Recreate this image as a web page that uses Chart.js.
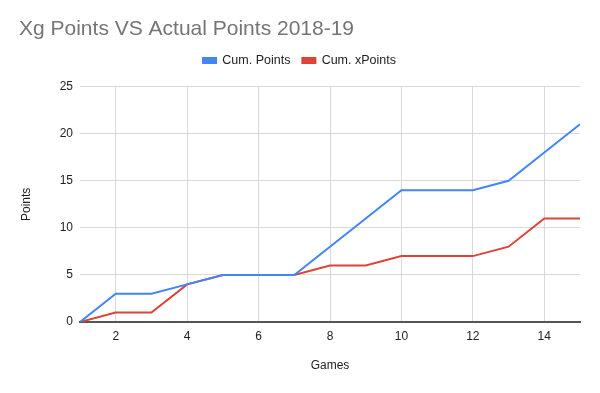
<!DOCTYPE html>
<html>
<head>
<meta charset="utf-8">
<script src="https://cdn.jsdelivr.net/npm/chart.js@4.4.1/dist/chart.umd.min.js"></script>
<style>
html,body{margin:0;padding:0;background:#fff;}
#wrap{width:600px;height:393px;position:relative;}
</style>
</head>
<body>
<div id="wrap"><canvas id="c" width="600" height="393"></canvas></div>
<script>
const titleText = "Xg Points VS Actual Points 2018-19";
const games = [1,2,3,4,5,6,7,8,9,10,11,12,13,14,15];
const cumPoints = [0,3,3,4,5,5,5,8,11,14,14,14,15,18,21];
const cumXPoints = [0,1,1,4,5,5,5,6,6,7,7,7,8,11,11];
const xTicks = [2,4,6,8,10,12,14];
const yTicks = [0,5,10,15,20,25];
const seriesNames = ["Cum. Points","Cum. xPoints"];
const seriesColors = ["#4285F4","#DB4437"];

const FONT = "'Liberation Sans', Arial, sans-serif";

new Chart(document.getElementById('c'), {
  type: 'line',
  data: {
    datasets: [
      {label: seriesNames[0], data: games.map((g,i)=>({x:g,y:cumPoints[i]})), borderColor: seriesColors[0], backgroundColor: seriesColors[0], borderWidth: 2, pointRadius: 0, tension: 0},
      {label: seriesNames[1], data: games.map((g,i)=>({x:g,y:cumXPoints[i]})), borderColor: seriesColors[1], backgroundColor: seriesColors[1], borderWidth: 2, pointRadius: 0, tension: 0}
    ]
  },
  options: {
    responsive: false,
    animation: false,
    devicePixelRatio: 1,
    layout: {padding: {left: 19, right: 20, top: 0, bottom: 0}},
    plugins: {
      title: {display: true, text: titleText, align: 'start', color: '#757575',
        font: {family: FONT, size: 21, weight: 'normal'}, padding: {top: 17, bottom: 0}},
      legend: {display: true, position: 'top', align: 'center',
        labels: {boxWidth: 13, boxHeight: 5, color: '#222', font: {family: FONT, size: 12.5}, padding: 12}},
      tooltip: {enabled: false}
    },
    scales: {
      x: {
        type: 'linear', min: 1, max: 15,
        afterBuildTicks: (ax) => { ax.ticks = xTicks.map(v => ({value: v})); },
        afterFit: (ax) => { ax.height = 71; },
        grid: {color: '#d9d9d9', lineWidth: 1, drawTicks: false},
        border: {display: true, color: '#555', width: 2},
        ticks: {color: '#222', font: {family: FONT, size: 12}, padding: 7, maxRotation: 0},
        title: {display: true, text: 'Games', color: '#222', font: {family: FONT, size: 12}, padding: {top: 0, bottom: 20}}
      },
      xTop: {
        type: 'linear', position: 'top', min: 1, max: 15, display: true,
        afterFit: (ax) => { ax.height = 10; },
        grid: {display: false, drawTicks: false},
        border: {display: false},
        ticks: {display: false}
      },
      y: {
        type: 'linear', min: 0, max: 25,
        afterBuildTicks: (ax) => { ax.ticks = yTicks.map(v => ({value: v})); },
        afterFit: (ax) => { ax.width = 61; },
        grid: {color: (ctx) => ctx.tick && ctx.tick.value === 0 ? 'rgba(0,0,0,0)' : '#d9d9d9', lineWidth: 1, drawTicks: false},
        border: {display: false},
        ticks: {color: '#222', font: {family: FONT, size: 12}, padding: 7},
        title: {display: true, text: 'Points', color: '#222', font: {family: FONT, size: 12}, padding: {top: 0, bottom: 0}}
      }
    }
  }
});
</script>
</body>
</html>
